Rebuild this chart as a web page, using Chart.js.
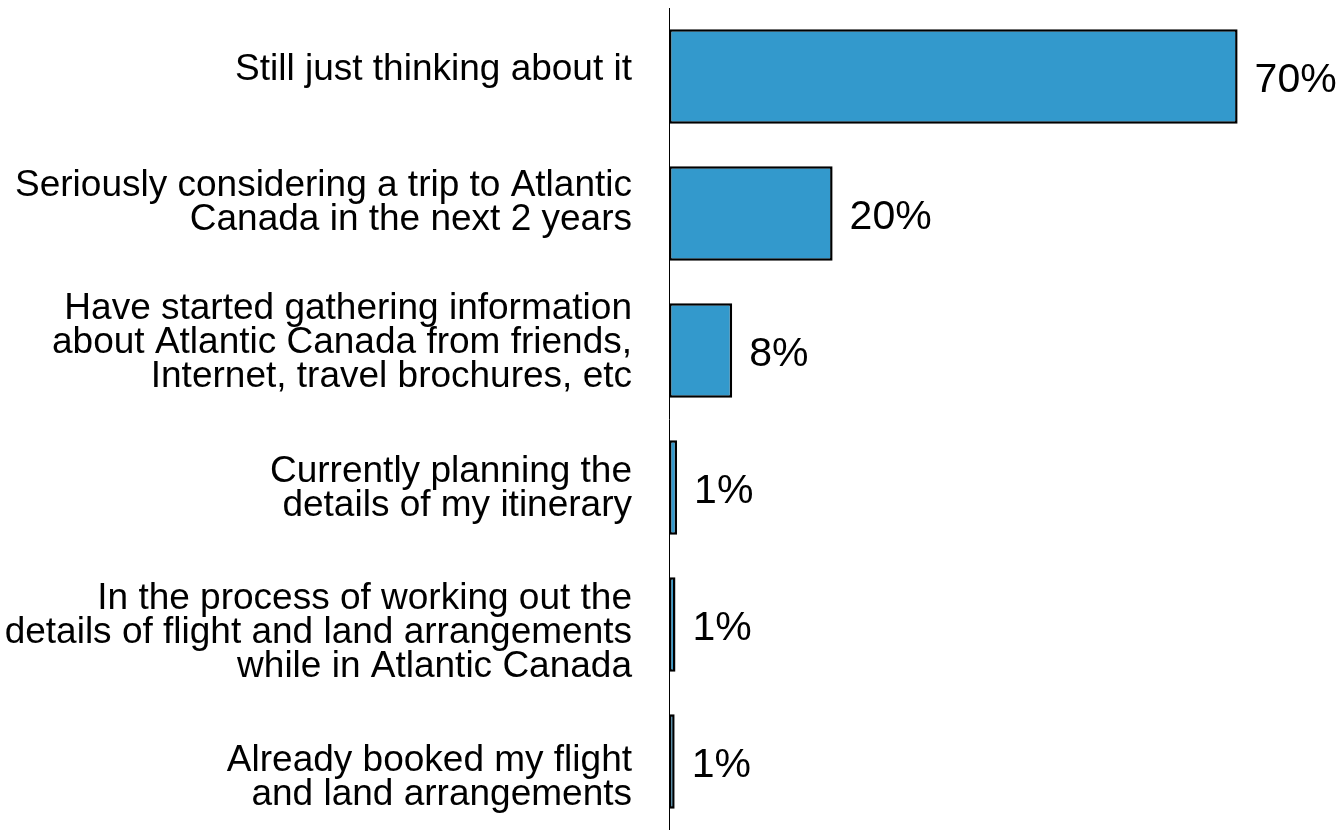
<!DOCTYPE html>
<html>
<head>
<meta charset="utf-8">
<script src="https://cdn.jsdelivr.net/npm/chart.js@4.4.1/dist/chart.umd.min.js"></script>
<style>
  html, body { margin: 0; padding: 0; background: #fff; }
  #wrap { width: 1338px; height: 830px; }
</style>
</head>
<body>
<div id="wrap"><canvas id="myChart"></canvas></div>
<script>
const categories = [
  'Still just thinking about it',
  ['Seriously considering a trip to Atlantic', 'Canada in the next 2 years'],
  ['Have started gathering information', 'about Atlantic Canada from friends,', 'Internet, travel brochures, etc'],
  ['Currently planning the', 'details of my itinerary'],
  ['In the process of working out the', 'details of flight and land arrangements', 'while in Atlantic Canada'],
  ['Already booked my flight', 'and land arrangements']
];
const values = [70.2, 20.2, 7.8, 1.0, 0.8, 0.7];
const valueLabels = ['70%', '20%', '8%', '1%', '1%', '1%'];

const FONT = '"Liberation Sans", Arial, sans-serif';

// draws the percentage text to the right of each bar
const barLabels = {
  id: 'barLabels',
  afterDatasetsDraw(chart) {
    const ctx = chart.ctx;
    const meta = chart.getDatasetMeta(0);
    ctx.save();
    ctx.font = '41px ' + FONT;
    ctx.fillStyle = '#000';
    ctx.textAlign = 'left';
    ctx.textBaseline = 'middle';
    meta.data.forEach((bar, i) => {
      ctx.fillText(valueLabels[i], bar.x + 17, bar.y + 4);
    });
    ctx.restore();
  }
};

// the category labels in the original don't sit exactly on the bar centres
const labelNudge = [-7, -11, -8, 1, 8, 16];
const nudgeLabels = {
  id: 'nudgeLabels',
  afterLayout(chart) {
    const items = chart.scales.y.getLabelItems(chart.chartArea);
    items.forEach((it, i) => { it.options.translation[1] += labelNudge[i] || 0; });
  }
};

const ctx = document.getElementById('myChart').getContext('2d');
new Chart(ctx, {
  type: 'bar',
  data: {
    labels: categories,
    datasets: [{
      data: values,
      backgroundColor: '#3399cc',
      borderColor: '#000',
      borderWidth: 2.5,
      borderSkipped: false,
      categoryPercentage: 0.69,
      barPercentage: 1.0
    }]
  },
  options: {
    indexAxis: 'y',
    responsive: true,
    maintainAspectRatio: false,
    animation: false,
    layout: { padding: { top: 8, right: 21, bottom: 0, left: 0 } },
    plugins: {
      legend: { display: false },
      tooltip: { enabled: false }
    },
    scales: {
      x: {
        display: false,
        min: 0,
        max: 80
      },
      y: {
        afterFit(scale) {
          scale.width = 669;
          scale.paddingTop = 0;
          scale.paddingBottom = 0;
        },
        grid: { display: false, drawTicks: false },
        border: { display: true, color: '#000', width: 1 },
        ticks: {
          color: '#000',
          padding: 37,
          font: { family: FONT, size: 37, lineHeight: '34px' }
        }
      }
    }
  },
  plugins: [barLabels, nudgeLabels]
});
</script>
</body>
</html>
